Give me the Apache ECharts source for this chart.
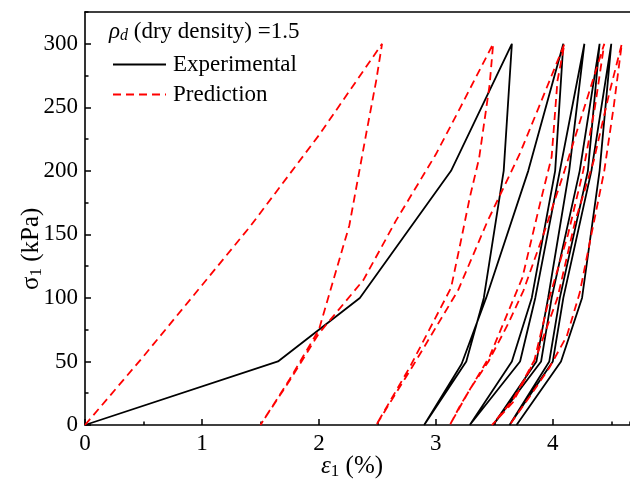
<!DOCTYPE html>
<html>
<head>
<meta charset="utf-8">
<script src="https://cdn.jsdelivr.net/npm/echarts@6/dist/echarts.min.js"></script>
<style>
  html, body { margin: 0; padding: 0; background: #fff; }
  #chart { width: 630px; height: 481px; }
</style>
</head>
<body>
<div id="chart"></div>
<script>
// strain (%) , stress (kPa) pairs
// experimental cycles
const expLoad1   = [[0, 0], [1.65, 50], [2.35, 100], [3.13, 200], [3.65, 300]];
const expUnload1 = [[3.65, 300], [3.58, 200], [3.41, 100], [3.26, 50], [2.90, 0]];
const expLoad2   = [[2.90, 0], [3.22, 48], [3.43, 100], [3.79, 200], [4.09, 300]];
const expUnload2 = [[4.09, 300], [4.02, 200], [3.82, 100], [3.65, 50], [3.29, 0]];
const expLoad3   = [[3.29, 0], [3.72, 50], [3.85, 100], [4.06, 200], [4.27, 300]];
const expUnload3 = [[4.27, 300], [4.14, 200], [3.96, 100], [3.86, 50], [3.49, 0]];
const expLoad4   = [[3.49, 0], [3.90, 50], [3.99, 100], [4.23, 200], [4.40, 300]];
const expUnload4 = [[4.40, 300], [4.30, 200], [4.06, 100], [3.97, 50], [3.63, 0]];
const expLoad5   = [[3.63, 0], [4.00, 50], [4.09, 100], [4.33, 200], [4.50, 300]];
const expUnload5 = [[4.50, 300], [4.40, 200], [4.25, 100], [4.07, 50], [3.69, 0]];

// prediction cycles
const preLoad1   = [[0, 0], [0.5, 54], [1.0, 110], [1.41, 156], [2.0, 228], [2.54, 300]];
const preUnload1 = [[2.54, 300], [2.49, 271], [2.41, 232], [2.26, 157], [2.0, 75], [1.75, 36], [1.5, 0]];
const preLoad2   = [[1.5, 0], [1.75, 35], [2.0, 72], [2.38, 114], [2.66, 161], [3.0, 213], [3.21, 250], [3.49, 300]];
const preUnload2 = [[3.49, 300], [3.46, 268], [3.37, 210], [3.29, 179], [3.21, 143], [3.13, 108], [2.78, 46], [2.49, 0]];
const preLoad3   = [[2.49, 0], [2.80, 46], [3.19, 106], [3.44, 160], [3.72, 214], [3.88, 250], [4.10, 300]];
const preUnload3 = [[4.10, 300], [4.04, 271], [3.99, 211], [3.89, 174], [3.74, 116], [3.46, 54], [3.20, 14], [3.12, 0]];
const preLoad4   = [[3.12, 0], [3.29, 28], [3.45, 50], [3.62, 80], [3.75, 106], [3.92, 150], [4.10, 200], [4.27, 250], [4.44, 300]];
const preUnload4 = [[4.44, 300], [4.36, 250], [4.26, 200], [4.13, 150], [3.97, 100], [3.84, 50], [3.66, 18], [3.48, 0]];
const preLoad5   = [[3.48, 0], [3.66, 20], [3.86, 54], [4.04, 100], [4.19, 160], [4.35, 208], [4.48, 260], [4.59, 300]];
const preUnload5 = [[4.59, 300], [4.52, 250], [4.44, 200], [4.33, 150], [4.23, 104], [4.12, 70], [3.97, 45], [3.80, 22], [3.63, 0]];

const expBranches = [expLoad1, expUnload1, expLoad2, expUnload2, expLoad3, expUnload3, expLoad4, expUnload4, expLoad5, expUnload5];
const preBranches = [preLoad1, preUnload1, preLoad2, preUnload2, preLoad3, preUnload3, preLoad4, preUnload4, preLoad5, preUnload5];

// join the branches into one path, dropping the repeated joint points
function joinPath(branches) {
    return branches.reduce((acc, b, i) => acc.concat(i ? b.slice(1) : b), []);
}

const xMax = 4.66;
const yMax = 325;
const serif = "'Liberation Serif', 'Times New Roman', serif";
const fs = 23;
const titleFs = 25;

const chart = echarts.init(document.getElementById('chart'), null, { renderer: 'canvas' });

const axisLine = { show: true, lineStyle: { color: '#000', width: 1.6 } };

chart.setOption({
    animation: false,
    backgroundColor: '#fff',
    grid: { left: 85, right: 0, top: 12, bottom: 56 },
    legend: {
        orient: 'vertical',
        left: 112,
        top: 53,
        padding: 0,
        itemWidth: 53,
        itemHeight: 20,
        itemGap: 7,
        itemStyle: { opacity: 0 },
        textStyle: { fontFamily: serif, fontSize: fs, color: '#000', padding: [0, 0, 0, 2] },
        data: ['Experimental', 'Prediction']
    },
    xAxis: [
        {
            type: 'value', min: 0, max: xMax, interval: 1, position: 'bottom',
            axisLine: axisLine,
            axisTick: { inside: true, length: 6, lineStyle: { color: '#000', width: 1.5 } },
            axisLabel: { fontFamily: serif, fontSize: fs, color: '#000', margin: 7, showMaxLabel: false },
            splitLine: { show: false }
        },
        {
            // minor ticks
            type: 'value', min: 0, max: xMax, interval: 0.5, position: 'bottom',
            axisLine: { show: false },
            axisTick: { inside: true, length: 3.5, lineStyle: { color: '#000', width: 1.5 } },
            axisLabel: { show: false },
            splitLine: { show: false }
        },
        {
            // top frame
            type: 'value', min: 0, max: xMax, position: 'top',
            axisLine: axisLine,
            axisTick: { show: false },
            axisLabel: { show: false },
            splitLine: { show: false }
        }
    ],
    yAxis: [
        {
            type: 'value', min: 0, max: yMax, interval: 50, position: 'left',
            axisLine: axisLine,
            axisTick: { inside: true, length: 6, lineStyle: { color: '#000', width: 1.5 } },
            axisLabel: { fontFamily: serif, fontSize: fs, color: '#000', margin: 7, showMaxLabel: false },
            splitLine: { show: false }
        },
        {
            // minor ticks
            type: 'value', min: 0, max: yMax, interval: 25, position: 'left',
            axisLine: { show: false },
            axisTick: { inside: true, length: 3.5, lineStyle: { color: '#000', width: 1.5 } },
            axisLabel: { show: false },
            splitLine: { show: false }
        }
    ],
    graphic: [
        {
            type: 'text', left: 109, top: 20,
            style: {
                text: '{r|ρ}{d|d}{t| (dry density) =1.5}',
                fill: '#000',
                rich: {
                    r: { fontFamily: serif, fontSize: fs, fontStyle: 'italic', fill: '#000' },
                    d: { fontFamily: serif, fontSize: 16, fontStyle: 'italic', fill: '#000', padding: [9, 0, 0, 0] },
                    t: { fontFamily: serif, fontSize: fs, fill: '#000' }
                }
            }
        },
        {
            type: 'text', left: 321, top: 454,
            style: {
                text: '{e|ε}{s|1}{t| (%)}',
                fill: '#000',
                rich: {
                    e: { fontFamily: serif, fontSize: titleFs, fontStyle: 'italic', fill: '#000' },
                    s: { fontFamily: serif, fontSize: 17, fill: '#000', padding: [10, 0, 0, 0] },
                    t: { fontFamily: serif, fontSize: titleFs, fill: '#000' }
                }
            }
        },
        {
            type: 'text', x: 18, y: 290, rotation: Math.PI / 2,
            style: {
                text: '{e|σ}{s|1}{t| (kPa)}',
                fill: '#000',
                rich: {
                    e: { fontFamily: serif, fontSize: titleFs, fill: '#000' },
                    s: { fontFamily: serif, fontSize: 17, fill: '#000', padding: [10, 0, 0, 0] },
                    t: { fontFamily: serif, fontSize: titleFs, fill: '#000' }
                }
            }
        }
    ],
    series: [
        {
            name: 'Experimental',
            type: 'line',
            data: joinPath(expBranches),
            symbol: 'none',
            lineStyle: { color: '#000', width: 1.8 },
            itemStyle: { color: '#000' }
        },
        {
            name: 'Prediction',
            type: 'line',
            data: joinPath(preBranches),
            symbol: 'none',
            lineStyle: { color: '#ff0000', width: 1.8, type: [8, 5] },
            itemStyle: { color: '#ff0000' }
        }
    ]
});
</script>
</body>
</html>
